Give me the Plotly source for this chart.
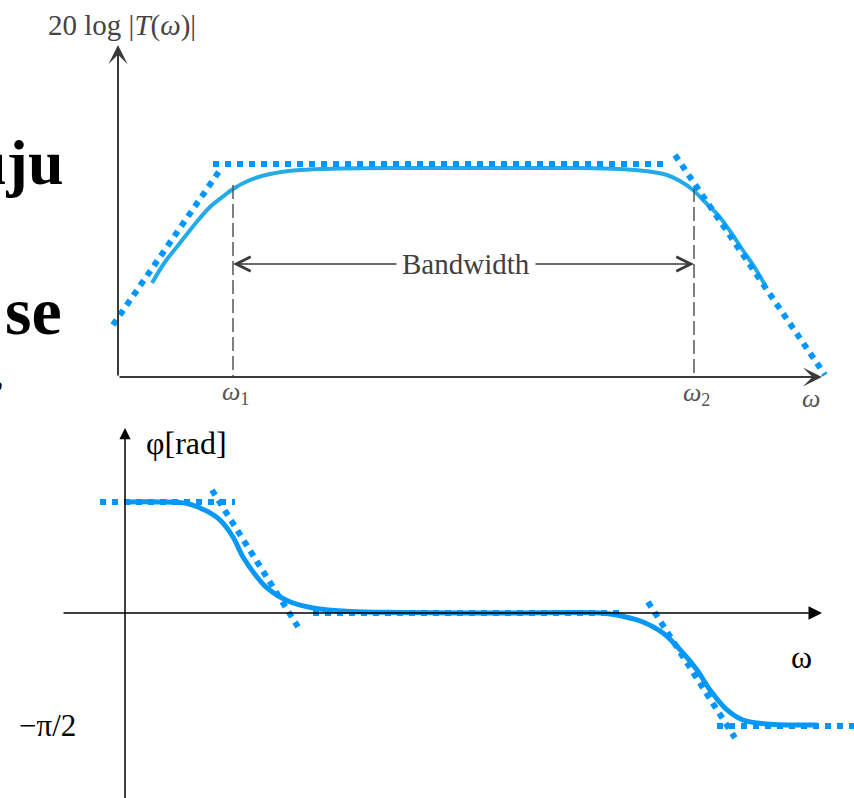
import plotly.graph_objects as go

# ---------------- top panel: magnitude |T(w)| (x: omega units, y: dB units) ----------------
mag_w = [3.4, 4.7, 6.2, 7.7, 9.2, 10.7, 11.5, 13.2, 15.2, 18.2, 22.2, 28.2, 38.2, 46.2,
         50.2, 52.7, 54.9, 56.2, 57.5, 58.7, 60.0, 61.2, 62.4, 63.7, 64.7]
mag_db = [9.4, 11.5, 13.4, 15.3, 17.0, 18.2, 18.8, 19.7, 20.3, 20.7, 20.85, 20.9, 20.9, 20.9,
          20.8, 20.6, 20.2, 19.6, 18.7, 17.5, 16.2, 14.6, 12.8, 10.9, 9.2]
asym_mag_w = [-0.5, 10.2, None, 9.5, 54.9, None, 55.7, 70.7]
asym_mag_db = [5.2, 20.7, None, 21.3, 21.3, None, 22.2, 0.2]
cut_w = [11.5, 57.6]            # omega_1, omega_2
cut_db = [19.2, 18.9]           # where the dashed markers meet the curve
bw_level = 11.3
bw_text_edges = [28.0, 41.6]
top_axis_tips = [70.4, 33.2]    # x-axis end, y-axis end

# ---------------- bottom panel: phase (x: omega units, y: rad) ----------------
phase_w = [0.0, 3.5, 6.2, 7.5, 8.5, 9.5, 10.8, 11.8, 13.2, 14.2, 15.5, 16.8, 18.8, 22.5,
           27.5, 37.5, 47.5, 49.2, 50.5, 51.8, 53.8, 55.8, 57.2, 58.5, 60.2, 61.8, 64.2, 69.2]
phase_rad = [1.557, 1.557, 1.536, 1.473, 1.403, 1.304, 1.066, 0.785, 0.505, 0.351, 0.224,
             0.140, 0.070, 0.021, 0.007, 0.0, 0.0, -0.028, -0.070, -0.126, -0.281, -0.561,
             -0.799, -1.080, -1.360, -1.501, -1.557, -1.571]
asym_phase_w = [-2.5, 11.0, None, 8.7, 17.3, None, 18.8, 49.7, None, 52.3, 61.0, None, 59.2, 72.9]
asym_phase_rad = [1.557, 1.557, None, 1.725, -0.196, None, 0.0, 0.0, None, 0.154, -1.753,
                  None, -1.585, -1.585]
bot_axis_x = [-6.3, 69.7]
bot_axis_y = [-2.7, 2.595]

SERIF = "Liberation Serif"
BLUE_DOT = "#0096FF"
TOP_SOLID = "#22ABE6"
BOT_SOLID = "#0A98F5"
GRAY = "#3a3a3a"

fig = go.Figure()

# top solid curve
fig.add_trace(go.Scatter(x=mag_w, y=mag_db, mode="lines", line=dict(color=TOP_SOLID, width=4, shape="spline"),
                         hoverinfo="skip", showlegend=False))
# dashed cut-off markers
for w, d in zip(cut_w, cut_db):
    fig.add_trace(go.Scatter(x=[w, w], y=[d, 0], mode="lines",
                             line=dict(color="#555555", width=1.5, dash="14px,5px"),
                             hoverinfo="skip", showlegend=False))
# top asymptotes
fig.add_trace(go.Scatter(x=asym_mag_w, y=asym_mag_db, mode="lines",
                         line=dict(color=BLUE_DOT, width=6, dash="6px,6px"),
                         hoverinfo="skip", showlegend=False, connectgaps=False))

# bottom solid curve
fig.add_trace(go.Scatter(x=phase_w, y=phase_rad, mode="lines", xaxis="x2", yaxis="y2",
                         line=dict(color=BOT_SOLID, width=5, shape="spline"),
                         hoverinfo="skip", showlegend=False))
# bottom asymptotes
fig.add_trace(go.Scatter(x=asym_phase_w, y=asym_phase_rad, mode="lines", xaxis="x2", yaxis="y2",
                         line=dict(color=BLUE_DOT, width=6, dash="6px,6px"),
                         hoverinfo="skip", showlegend=False, connectgaps=False))

ann = []
# top axes arrows
ann.append(dict(xref="x", yref="y", axref="x", ayref="y", x=0, y=top_axis_tips[1], ax=0, ay=0,
                showarrow=True, arrowhead=3, arrowwidth=2, arrowsize=1.6, arrowcolor=GRAY, text=""))
ann.append(dict(xref="x", yref="y", axref="x", ayref="y", x=top_axis_tips[0], y=0, ax=0, ay=0,
                showarrow=True, arrowhead=3, arrowwidth=2, arrowsize=1.6, arrowcolor=GRAY, text=""))
# bandwidth arrows
ann.append(dict(xref="x", yref="y", axref="x", ayref="y", x=cut_w[0], y=bw_level,
                ax=bw_text_edges[0], ay=bw_level, showarrow=True, arrowhead=5, arrowwidth=1.3,
                arrowsize=2.2, arrowcolor=GRAY, text=""))
ann.append(dict(xref="x", yref="y", axref="x", ayref="y", x=cut_w[1], y=bw_level,
                ax=bw_text_edges[1], ay=bw_level, showarrow=True, arrowhead=5, arrowwidth=1.3,
                arrowsize=2.2, arrowcolor=GRAY, text=""))
ann.append(dict(xref="x", yref="y", x=(bw_text_edges[0] + bw_text_edges[1]) / 2, y=bw_level,
                text="Bandwidth", showarrow=False, font=dict(family=SERIF, size=29, color="#404040")))
# top labels
ann.append(dict(xref="x", yref="y", x=0.4, y=35.2, text="20 log |<i>T</i>(<i>ω</i>)|", showarrow=False,
                font=dict(family=SERIF, size=29, color="#444444")))
ann.append(dict(xref="x", yref="y", x=cut_w[0] + 0.2, y=-1.6, text="<i>ω</i><sub>1</sub>", showarrow=False,
                font=dict(family=SERIF, size=26, color="#555555")))
ann.append(dict(xref="x", yref="y", x=cut_w[1] + 0.2, y=-1.7, text="<i>ω</i><sub>2</sub>", showarrow=False,
                font=dict(family=SERIF, size=26, color="#555555")))
ann.append(dict(xref="x", yref="y", x=69.3, y=-2.1, text="<i>ω</i>", showarrow=False,
                font=dict(family=SERIF, size=26, color="#555555")))
# cut-off slide text fragments at the left edge
ann.append(dict(xref="x", yref="y", x=-5.2, y=21.5, text="<b>uju</b>", showarrow=False, xanchor="right",
                font=dict(family=SERIF, size=64, color="black")))
ann.append(dict(xref="x", yref="y", x=-5.4, y=6.6, text="<b>se</b>", showarrow=False, xanchor="right",
                font=dict(family=SERIF, size=68, color="black")))
ann.append(dict(xref="x", yref="y", x=-11.3, y=0.2, text="<b>,</b>", showarrow=False, xanchor="right",
                font=dict(family=SERIF, size=36, color="black")))

# bottom axes arrows
ann.append(dict(xref="x2", yref="y2", axref="x2", ayref="y2", x=0, y=bot_axis_y[1], ax=0, ay=bot_axis_y[0],
                showarrow=True, arrowhead=2, arrowwidth=1.5, arrowsize=1.5, arrowcolor="black", text=""))
ann.append(dict(xref="x2", yref="y2", axref="x2", ayref="y2", x=bot_axis_x[1], y=0, ax=bot_axis_x[0], ay=0,
                showarrow=True, arrowhead=2, arrowwidth=1.5, arrowsize=1.8, arrowcolor="black", text=""))
# bottom labels
ann.append(dict(xref="x2", yref="y2", x=6.1, y=2.39, text="φ[rad]", showarrow=False,
                font=dict(family=SERIF, size=32, color="black")))
ann.append(dict(xref="x2", yref="y2", x=67.6, y=-0.62, text="ω", showarrow=False,
                font=dict(family=SERIF, size=32, color="black")))
ann.append(dict(xref="x2", yref="y2", x=-7.8, y=-1.585, text="−π/2", showarrow=False,
                font=dict(family=SERIF, size=31, color="black")))

fig.update_layout(
    width=854, height=798,
    margin=dict(l=0, r=0, t=0, b=0, pad=0),
    paper_bgcolor="white", plot_bgcolor="white",
    xaxis=dict(domain=[0, 1], range=[-11.8, 73.6], visible=False, fixedrange=True),
    yaxis=dict(domain=[0, 1], range=[-42.1, 37.7], visible=False, fixedrange=True),
    xaxis2=dict(overlaying="x", anchor="y2", range=[-12.5, 72.9], visible=False, fixedrange=True),
    yaxis2=dict(overlaying="y", anchor="x2", range=[-2.595, 8.597], visible=False, fixedrange=True),
    annotations=ann,
    showlegend=False,
)

fig.write_html("out.html")
